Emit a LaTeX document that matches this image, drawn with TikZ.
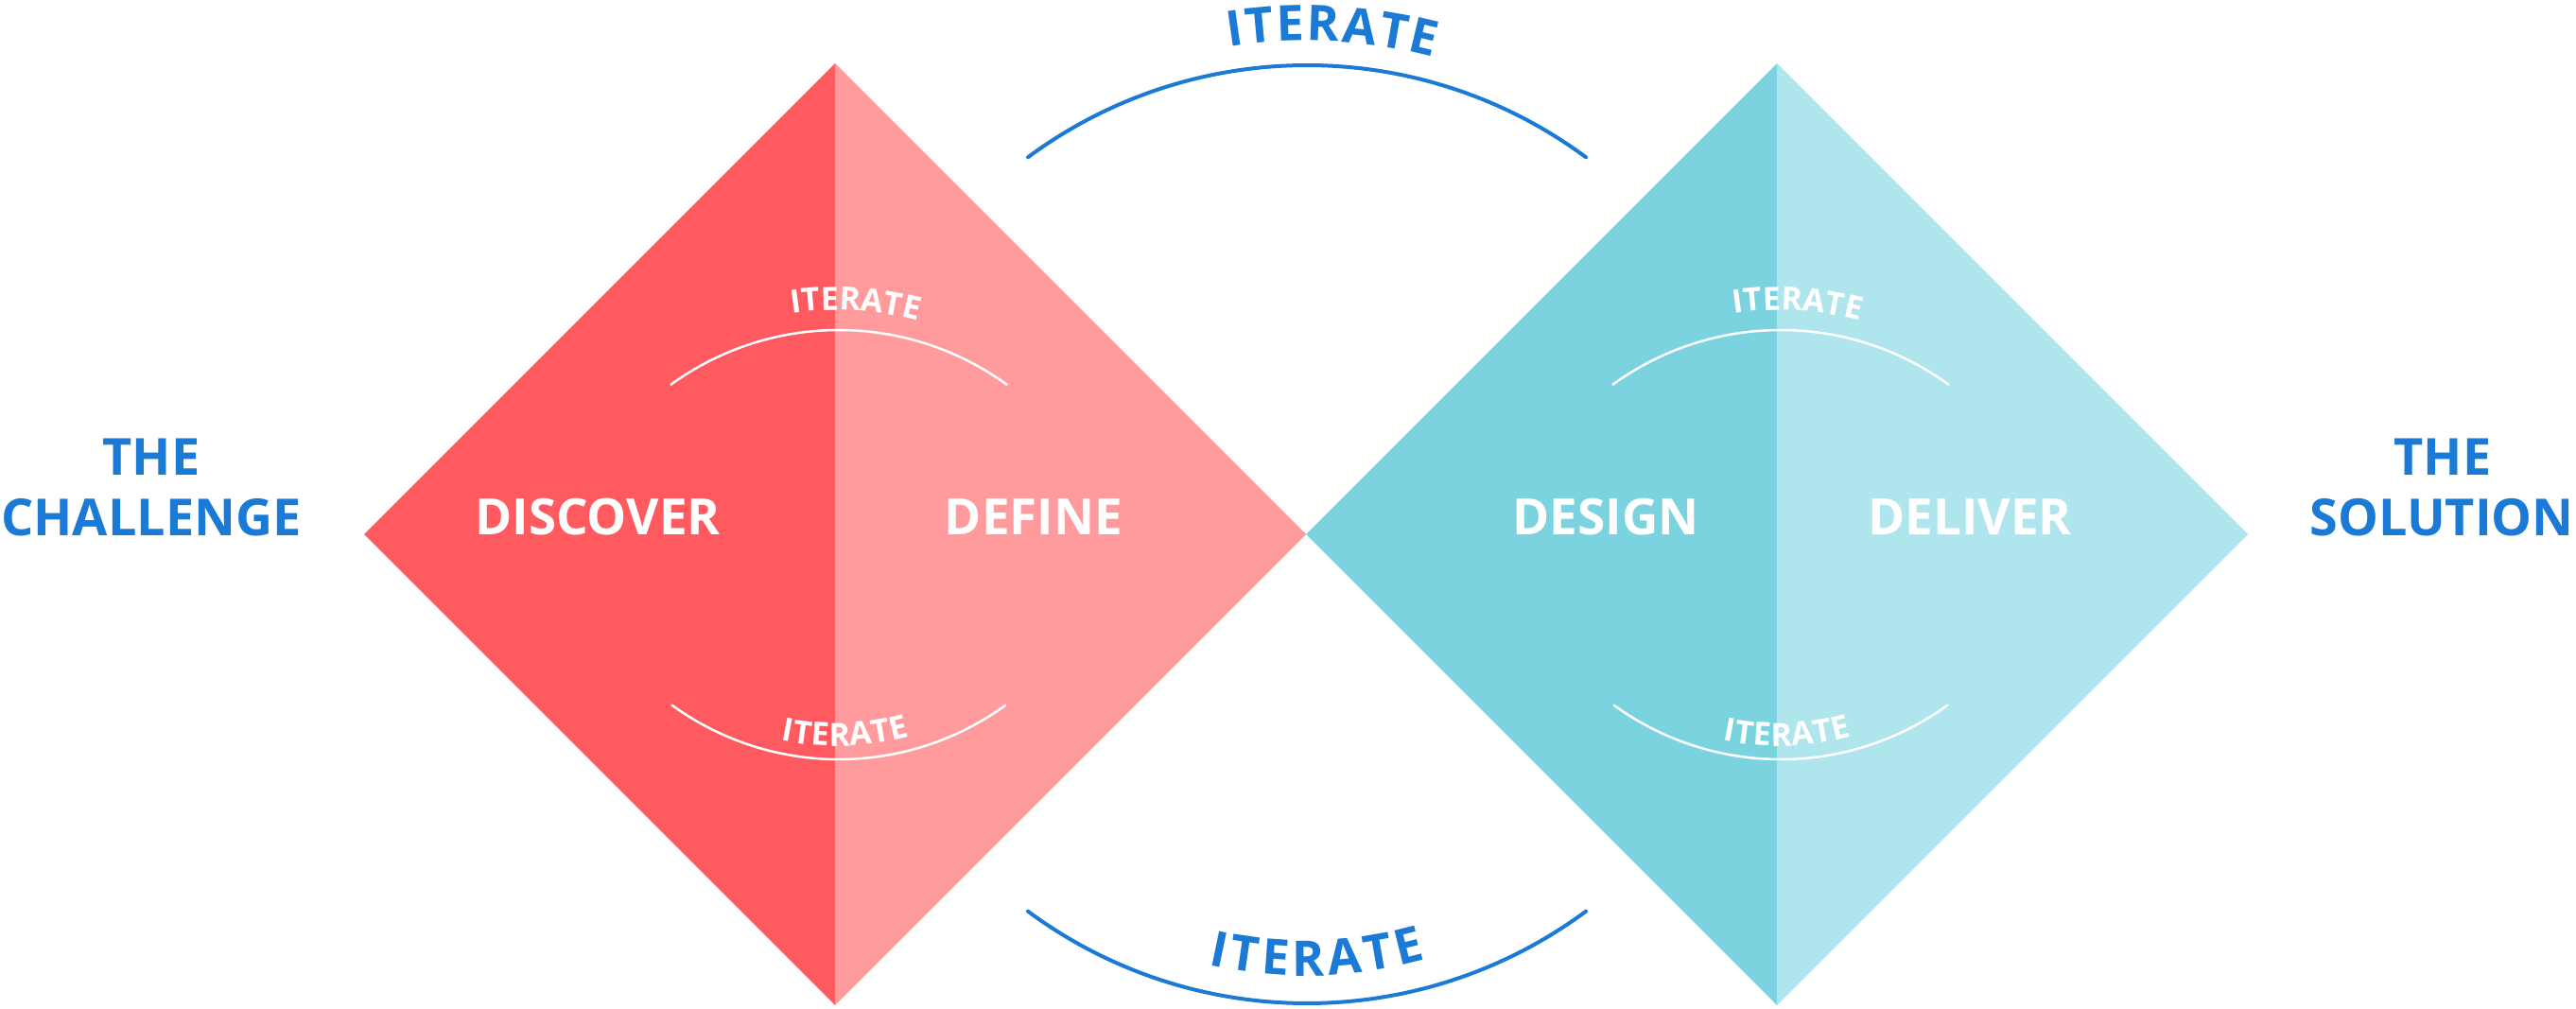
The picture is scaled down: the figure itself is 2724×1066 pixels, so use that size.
\documentclass[tikz,border=0pt]{standalone}
\usepackage{fontspec}
\setmainfont{Open Sans}
\usetikzlibrary{decorations.text}
\definecolor{redD}{HTML}{FF5A5F}
\definecolor{redL}{HTML}{FF9A9D}
\definecolor{tealD}{HTML}{7AD3DF}
\definecolor{tealL}{HTML}{AFE5ED}
\definecolor{blueT}{HTML}{1A7AD6}
\tikzset{
  phase/.style={text=white, inner sep=0pt, anchor=base, font=\fontsize{53}{53}\selectfont\bfseries},
  endlabel/.style={text=blueT, inner sep=0pt, anchor=base, font=\fontsize{54}{54}\selectfont\bfseries},
  bigarc/.style={draw=blueT, line width=4pt, line cap=round},
  smallarc/.style={draw=white, line width=2.5pt, line cap=round},
  bigtext/.style={decorate, decoration={text along path, text align={fit to path}, text color=blueT,
     text={|\fontsize{52}{52}\selectfont\bfseries|ITERATE}}},
  smalltext/.style={decorate, decoration={text along path, text align={fit to path}, text color=white,
     text={|\fontsize{34}{34}\selectfont\bfseries|ITERATE}}}
}
\begin{document}
\begin{tikzpicture}[x=1pt,y=1pt]
\useasboundingbox (0,0) rectangle (2724,1066);
\fill[white] (0,0) rectangle (2724,1066);
% left diamond
\fill[redD] (385,501) -- (883,999) -- (883,3) -- cycle;
\fill[redL] (883,999) -- (1381,501) -- (883,3) -- cycle;
% right diamond
\fill[tealD] (1381,501) -- (1879,999) -- (1879,3) -- cycle;
\fill[tealL] (1879,999) -- (2377,501) -- (1879,3) -- cycle;
% big arcs
\draw[bigarc] (1382,501) ++(53.5:496) arc[start angle=53.5, end angle=126.5, radius=496];
\draw[bigarc] (1382,501) ++(233.5:496) arc[start angle=233.5, end angle=306.5, radius=496];
\path[bigtext] (1381,501) ++(99:522) arc[start angle=99, end angle=75, radius=522];
\path[bigtext] (1381,501) ++(257.2:467) arc[start angle=257.2, end angle=285.8, radius=467];
% small arcs, left diamond
\draw[smallarc] (887,415) ++(54:302) arc[start angle=54, end angle=126, radius=302];
\draw[smallarc] (887,563) ++(234:300) arc[start angle=234, end angle=306, radius=300];
\path[smalltext] (885,415) ++(98.5:323) arc[start angle=98.5, end angle=75.5, radius=323];
\path[smalltext] (885,563) ++(258:286) arc[start angle=258, end angle=285.6, radius=286];
% small arcs, right diamond
\draw[smallarc] (1883,415) ++(54:302) arc[start angle=54, end angle=126, radius=302];
\draw[smallarc] (1883,563) ++(234:300) arc[start angle=234, end angle=306, radius=300];
\path[smalltext] (1881,415) ++(98.5:323) arc[start angle=98.5, end angle=75.5, radius=323];
\path[smalltext] (1881,563) ++(258:286) arc[start angle=258, end angle=285.6, radius=286];
% phase labels
\node[phase] (discover) at (632,500) {DISCOVER};
\node[phase] (define) at (1093,500) {DEFINE};
\node[phase] (design) at (1698,500) {DESIGN};
\node[phase] (deliver) at (2083,500) {DELIVER};
% end labels
\node[endlabel] (the1) at (160,563) {THE};
\node[endlabel] (challenge) at (160,499) {CHALLENGE};
\node[endlabel] (the2) at (2583,563) {THE};
\node[endlabel] (solution) at (2582,499) {SOLUTION};
\end{tikzpicture}
\end{document}
